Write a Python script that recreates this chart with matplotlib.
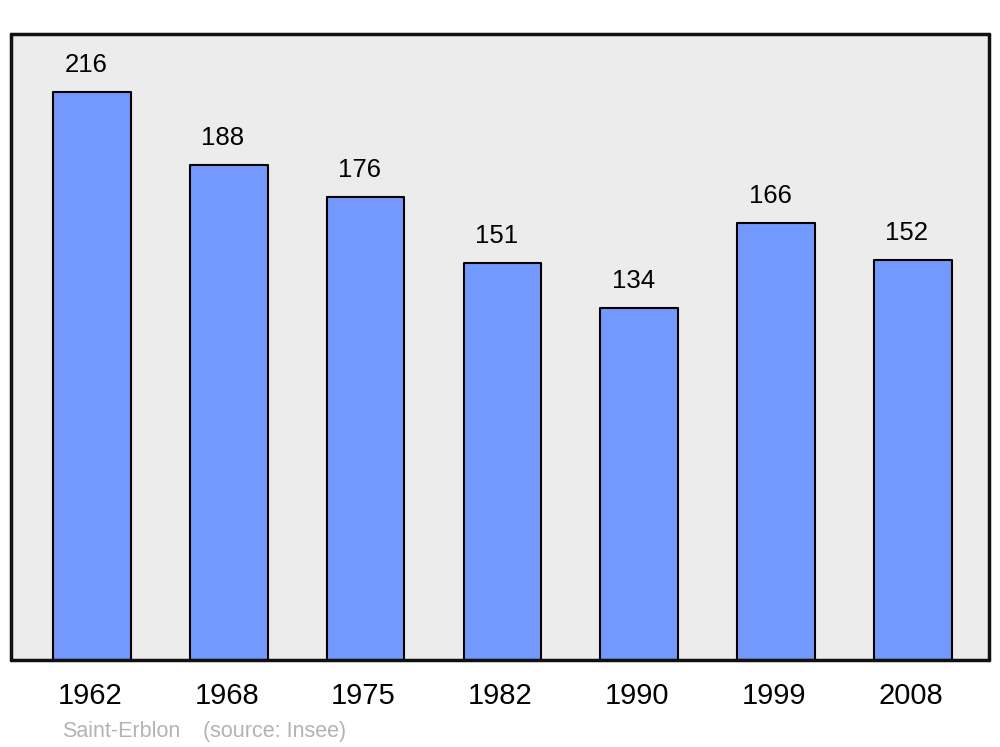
import matplotlib
matplotlib.use("Agg")
import matplotlib.pyplot as plt
from matplotlib.transforms import blended_transform_factory

years = ["1962", "1968", "1975", "1982", "1990", "1999", "2008"]
population = [216, 188, 176, 151, 134, 166, 152]
commune = "Saint-Erblon"
source = "(source: Insee)"

plt.rcParams['font.family'] = ['Liberation Sans', 'DejaVu Sans']

fig = plt.figure(figsize=(10, 7.47), dpi=100)
ax = fig.add_axes([0.011, 0.1165, 0.978, 0.838])
ax.set_facecolor('#ececec')

x = list(range(len(years)))
bars = ax.bar(x, population, width=0.568, color='#7399ff', edgecolor='black',
              linewidth=1.5, zorder=2)
for b in bars:
    b.set_joinstyle('round')

ax.set_xlim(-0.592, 6.557)
ax.set_ylim(0, 238)

for xi, v in zip(x, population):
    ax.annotate(str(v), (xi, v), xytext=(-6, 27), textcoords='offset pixels',
                ha='center', va='center', fontsize=18.5, color='black')

trans = blended_transform_factory(ax.transData, ax.transAxes)
for xi, y in zip(x, years):
    ax.text(xi - 0.015, -0.0575, y, transform=trans, ha='center', va='center',
            fontsize=21, color='black')

ax.set_xticks([])
ax.set_yticks([])
for s in ax.spines.values():
    s.set_linewidth(2.5)
    s.set_color('#111111')
    s.set_joinstyle('round')
    s.set_capstyle('round')

fig.text(0.062, 0.0205, commune, ha='left', va='center', fontsize=15.5, color='#b3b3b3')
fig.text(0.203, 0.0205, source, ha='left', va='center', fontsize=15.5, color='#b3b3b3')

fig.savefig('out.png', dpi=100, facecolor='white')
